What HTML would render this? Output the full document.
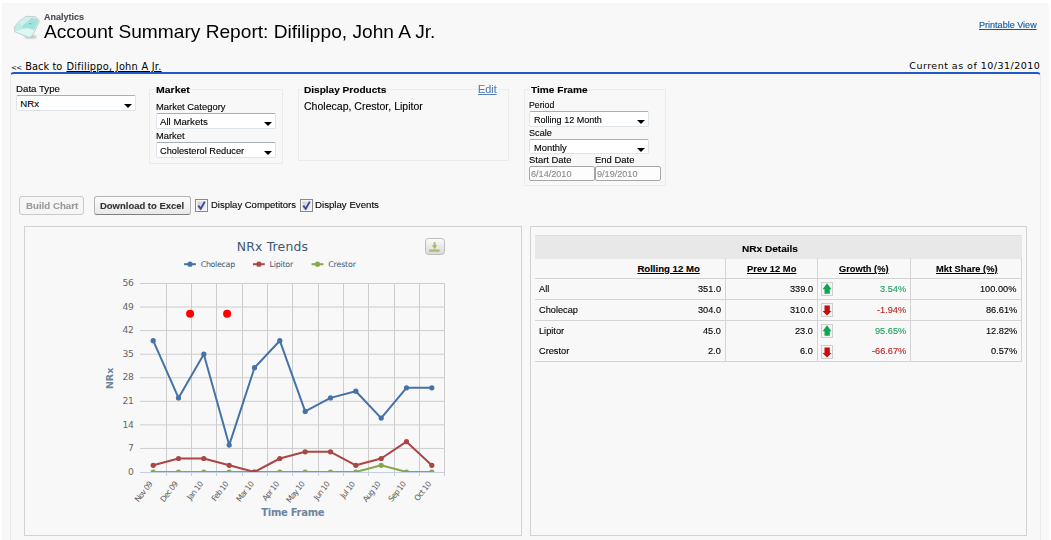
<!DOCTYPE html>
<html><head><meta charset="utf-8"><title>Account Summary Report</title>
<style>
html,body{margin:0;padding:0;background:#fff;}
body{width:1051px;height:540px;overflow:hidden;position:relative;font-family:"Liberation Sans",Arial,sans-serif;font-size:11px;color:#000;}
#bg{position:absolute;left:2px;top:3px;width:1047px;height:537px;background:#f8f8f8;}
.a{position:absolute;white-space:nowrap;transform-origin:0 0;-webkit-text-stroke:0.12px currentColor;}
.v{-webkit-text-stroke:0;}
.v{font-family:"DejaVu Sans",Verdana,sans-serif;}
.ct{font-family:"DejaVu Sans",Verdana,sans-serif;}
.u{text-decoration:underline;}
.lgd{background:#f8f8f8;}
#panel{position:absolute;left:10px;top:72px;width:1029px;height:480px;border:1px solid #eaeaea;border-top:2px solid #2159c5;border-radius:4px 4px 0 0;background:#f8f8f8;}
.fs{position:absolute;border:1px solid #ececec;}
.sel{position:absolute;width:118px;height:14px;background:#fff;border:1px solid #dfe3ea;border-top-color:#a9adb5;border-radius:2px;}
.sel i{position:absolute;right:3.5px;top:8px;width:0;height:0;border-left:4px solid transparent;border-right:4px solid transparent;border-top:4.4px solid #000;}
.inp{position:absolute;height:13px;background:#fdfdfd;border:1px solid #a6a6a6;border-radius:2px;}
.btn{position:absolute;top:196px;height:17px;border:1px solid #b5b5b5;border-bottom-color:#7f7f7f;border-radius:3px;background:linear-gradient(#fbfbfb,#e9e9e9);}
.btn.dis{border-color:#c9c9c9;background:#f6f6f6;}
.cb{position:absolute;top:199px;width:11px;height:11px;border:1px solid #8a8a8a;background:linear-gradient(135deg,#c9c9c9,#f4f4f4);box-shadow:inset 0 0 0 1.5px #f5f5f5;}
.cb svg{position:absolute;left:0;top:0}
.box{position:absolute;border:1px solid #d2d2d2;background:#f8f8f8;}
.chart{position:absolute;left:24px;top:226px;}
.hl{position:absolute;height:1px;background:#d4d4d4;}
.vl{position:absolute;width:1px;background:#d4d4d4;}
.ic{position:absolute;left:821px;}
</style></head><body>
<div id="bg"></div>
<!-- header -->
<svg class="a" style="left:10px;top:12px" width="34" height="30" viewBox="10 12 34 30">
<defs><filter id="bl" x="-20%" y="-20%" width="140%" height="140%"><feGaussianBlur stdDeviation="0.55"/></filter>
<filter id="bl2" x="-30%" y="-50%" width="160%" height="200%"><feGaussianBlur stdDeviation="1"/></filter></defs>
<ellipse cx="30.5" cy="36.8" rx="6.5" ry="1.3" fill="#a9a9a9" filter="url(#bl2)"/>
<g filter="url(#bl)">
<polygon points="26,16.3 35.3,16.7 39.3,20.3 39,22.3 33.7,33.3 31.2,36.9 28.3,37.4 14.7,31.7 14.3,27 19,21.3" fill="#cdf2ee" stroke="#c6cccc" stroke-width="0.9"/>
<polygon points="31.3,18 37.3,19 38,22 34,30 28,28.3 22.3,28.9 22,26 28,21.3" fill="#a2e2d9"/>
<polygon points="22.3,28.9 28,28.3 34,30 32.5,33.5 30.3,36.6 15.5,31.4" fill="#dcf8f5"/>
<polygon points="15,27.2 19.5,22 22,26 22.3,28.9 15.3,31" fill="#bdece6"/>
<polygon points="29.2,23 31.6,23 30.4,24.8" fill="#4db8e8"/>
</g></svg>
<div class="a" style="left:44.00px;top:11.00px;font-size:9.60px;line-height:11.00px;transform:scaleX(0.9372);font-weight:bold;color:#4a4a56;">Analytics</div>
<div class="a" style="left:44.30px;top:21.00px;font-size:19.00px;line-height:21.00px;transform:scaleX(1.0072);-webkit-text-stroke:0;">Account Summary Report: Difilippo, John A Jr.</div>
<div class="a u" style="left:979.20px;top:19.00px;font-size:9.60px;line-height:11.00px;transform:scaleX(0.9430);color:#015ba7;">Printable View</div>
<div class="a v" style="left:11.10px;top:64.00px;font-size:7.00px;line-height:8.00px;letter-spacing:-0.816px;">&lt;&lt;</div>
<div class="a v" style="left:25.20px;top:61.00px;font-size:9.80px;line-height:11.00px;letter-spacing:0.065px;">Back to</div>
<div class="a u v" style="left:66.50px;top:61.00px;font-size:9.80px;line-height:11.00px;letter-spacing:0.246px;">Difilippo, John A Jr.</div>
<div class="a v" style="left:909.30px;top:60.00px;font-size:9.50px;line-height:11.00px;letter-spacing:0.482px;">Current as of 10/31/2010</div>
<div id="panel"></div>
<!-- filters -->
<div class="sel" style="left:16px;top:95px"><i></i></div>
<div class="fs" style="left:149px;top:89px;width:132px;height:73px"></div>
<div class="sel" style="left:156px;top:113px"><i></i></div>
<div class="sel" style="left:156px;top:142px"><i></i></div>
<div class="fs" style="left:298px;top:89px;width:209px;height:70px"></div>
<div class="fs" style="left:524px;top:89px;width:140px;height:95px"></div>
<div class="sel" style="left:529px;top:111px"><i></i></div>
<div class="sel" style="left:529px;top:139px;height:13px"><i></i></div>
<div class="inp" style="left:529px;top:166px;width:64px"></div>
<div class="inp" style="left:595px;top:166px;width:64px"></div>
<div class="btn dis" style="left:19px;width:63px"></div>
<div class="btn" style="left:94px;width:95px"></div>
<div class="cb" style="left:195px"><svg width="11" height="11" viewBox="0 0 11 11"><path d="M2.3 5.6 L4.7 8.8 L8.8 1.6" fill="none" stroke="#3a4a9c" stroke-width="1.9"/></svg></div>
<div class="cb" style="left:299.5px"><svg width="11" height="11" viewBox="0 0 11 11"><path d="M2.3 5.6 L4.7 8.8 L8.8 1.6" fill="none" stroke="#3a4a9c" stroke-width="1.9"/></svg></div>
<div class="a" style="left:16.00px;top:83.00px;font-size:9.60px;line-height:11.00px;transform:scaleX(1.0096);">Data Type</div>
<div class="a lgd" style="left:156.20px;top:84.00px;font-size:9.60px;line-height:11.00px;transform:scaleX(1.0923);font-weight:bold;">Market</div>
<div class="a" style="left:156.00px;top:101.00px;font-size:9.60px;line-height:11.00px;transform:scaleX(0.9795);">Market Category</div>
<div class="a" style="left:156.00px;top:130.00px;font-size:9.60px;line-height:11.00px;transform:scaleX(0.9740);">Market</div>
<div class="a lgd" style="left:304.00px;top:84.00px;font-size:9.60px;line-height:11.00px;transform:scaleX(1.0495);font-weight:bold;">Display Products</div>
<div class="a u lgd" style="left:478.30px;top:84.00px;font-size:10.40px;line-height:11.00px;transform:scaleX(1.0435);color:#5580b0;">Edit</div>
<div class="a" style="left:304.00px;top:101.00px;font-size:10.00px;line-height:11.00px;transform:scaleX(1.0530);">Cholecap, Crestor, Lipitor</div>
<div class="a lgd" style="left:530.80px;top:84.00px;font-size:9.60px;line-height:11.00px;transform:scaleX(1.0538);font-weight:bold;">Time Frame</div>
<div class="a" style="left:529.20px;top:99.00px;font-size:9.60px;line-height:11.00px;transform:scaleX(0.9118);">Period</div>
<div class="a" style="left:529.20px;top:127.00px;font-size:9.60px;line-height:11.00px;transform:scaleX(0.9495);">Scale</div>
<div class="a" style="left:529.20px;top:154.00px;font-size:9.60px;line-height:11.00px;transform:scaleX(0.9834);">Start Date</div>
<div class="a" style="left:595.20px;top:154.00px;font-size:9.60px;line-height:11.00px;transform:scaleX(0.9854);">End Date</div>
<div class="a" style="left:210.60px;top:199.00px;font-size:9.60px;line-height:11.00px;transform:scaleX(0.9896);">Display Competitors</div>
<div class="a" style="left:315.40px;top:199.00px;font-size:9.60px;line-height:11.00px;transform:scaleX(1.0080);">Display Events</div>
<div class="a" style="left:25.60px;top:200.00px;font-size:9.60px;line-height:11.00px;transform:scaleX(1.0110);font-weight:bold;color:#9a9a9a;">Build Chart</div>
<div class="a" style="left:100.30px;top:200.00px;font-size:9.60px;line-height:11.00px;transform:scaleX(0.9866);font-weight:bold;color:#333;">Download to Excel</div>
<div class="a" style="left:20.30px;top:98.00px;font-size:9.60px;line-height:11.00px;">NRx</div>
<div class="a" style="left:160.00px;top:116.00px;font-size:9.60px;line-height:11.00px;transform:scaleX(1.0069);">All Markets</div>
<div class="a" style="left:160.00px;top:145.00px;font-size:9.60px;line-height:11.00px;transform:scaleX(0.9622);">Cholesterol Reducer</div>
<div class="a" style="left:533.60px;top:114.00px;font-size:9.60px;line-height:11.00px;transform:scaleX(0.9426);">Rolling 12 Month</div>
<div class="a" style="left:533.60px;top:142.00px;font-size:9.60px;line-height:11.00px;transform:scaleX(0.9729);">Monthly</div>
<div class="a" style="left:531.20px;top:168.00px;font-size:9.60px;line-height:11.00px;transform:scaleX(0.9484);color:#8a8a8a;">6/14/2010</div>
<div class="a" style="left:597.30px;top:168.00px;font-size:9.60px;line-height:11.00px;transform:scaleX(0.9484);color:#8a8a8a;">9/19/2010</div>
<!-- chart panel -->
<div class="box" style="left:24px;top:226px;width:496px;height:308px"></div>
<svg class="chart" width="497" height="309" viewBox="24 226 497 309">
<g stroke="#cdcdcd" stroke-width="1"><line x1="140.0" x2="445.0" y1="448.44" y2="448.44"/><line x1="140.0" x2="445.0" y1="424.88" y2="424.88"/><line x1="140.0" x2="445.0" y1="401.31" y2="401.31"/><line x1="140.0" x2="445.0" y1="377.75" y2="377.75"/><line x1="140.0" x2="445.0" y1="354.19" y2="354.19"/><line x1="140.0" x2="445.0" y1="330.62" y2="330.62"/><line x1="140.0" x2="445.0" y1="307.06" y2="307.06"/><line x1="140.0" x2="445.0" y1="283.50" y2="283.50"/></g>
<g stroke="#cdcdcd" stroke-width="1" shape-rendering="crispEdges"><line x1="166.5" x2="166.5" y1="283.0" y2="472.0"/><line x1="191.5" x2="191.5" y1="283.0" y2="472.0"/><line x1="216.5" x2="216.5" y1="283.0" y2="472.0"/><line x1="242.5" x2="242.5" y1="283.0" y2="472.0"/><line x1="267.5" x2="267.5" y1="283.0" y2="472.0"/><line x1="292.5" x2="292.5" y1="283.0" y2="472.0"/><line x1="318.5" x2="318.5" y1="283.0" y2="472.0"/><line x1="343.5" x2="343.5" y1="283.0" y2="472.0"/><line x1="368.5" x2="368.5" y1="283.0" y2="472.0"/><line x1="394.5" x2="394.5" y1="283.0" y2="472.0"/><line x1="419.5" x2="419.5" y1="283.0" y2="472.0"/><line x1="444.5" x2="444.5" y1="283.0" y2="472.0"/></g>
<g stroke="#c0d0e0" stroke-width="1" shape-rendering="crispEdges"><line x1="140.0" x2="445.0" y1="472.5" y2="472.5"/><line x1="166.5" x2="166.5" y1="472" y2="476"/><line x1="191.5" x2="191.5" y1="472" y2="476"/><line x1="216.5" x2="216.5" y1="472" y2="476"/><line x1="242.5" x2="242.5" y1="472" y2="476"/><line x1="267.5" x2="267.5" y1="472" y2="476"/><line x1="292.5" x2="292.5" y1="472" y2="476"/><line x1="318.5" x2="318.5" y1="472" y2="476"/><line x1="343.5" x2="343.5" y1="472" y2="476"/><line x1="368.5" x2="368.5" y1="472" y2="476"/><line x1="394.5" x2="394.5" y1="472" y2="476"/><line x1="419.5" x2="419.5" y1="472" y2="476"/><line x1="444.5" x2="444.5" y1="472" y2="476"/></g>
<defs><clipPath id="pc"><rect x="140.5" y="277.5" width="304.0" height="194.5"/></clipPath></defs>
<g clip-path="url(#pc)"><polyline points="153.2,472.0 178.5,472.0 203.8,472.0 229.2,472.0 254.5,472.0 279.8,472.0 305.2,472.0 330.5,472.0 355.8,472.0 381.2,465.3 406.5,472.0 431.8,472.0" fill="none" stroke="#89A54E" stroke-width="2" stroke-linejoin="round" stroke-linecap="round"/><circle cx="153.2" cy="472.0" r="2.6" fill="#89A54E"/><circle cx="178.5" cy="472.0" r="2.6" fill="#89A54E"/><circle cx="203.8" cy="472.0" r="2.6" fill="#89A54E"/><circle cx="229.2" cy="472.0" r="2.6" fill="#89A54E"/><circle cx="254.5" cy="472.0" r="2.6" fill="#89A54E"/><circle cx="279.8" cy="472.0" r="2.6" fill="#89A54E"/><circle cx="305.2" cy="472.0" r="2.6" fill="#89A54E"/><circle cx="330.5" cy="472.0" r="2.6" fill="#89A54E"/><circle cx="355.8" cy="472.0" r="2.6" fill="#89A54E"/><circle cx="381.2" cy="465.3" r="2.6" fill="#89A54E"/><circle cx="406.5" cy="472.0" r="2.6" fill="#89A54E"/><circle cx="431.8" cy="472.0" r="2.6" fill="#89A54E"/><polyline points="153.2,465.3 178.5,458.5 203.8,458.5 229.2,465.3 254.5,472.0 279.8,458.5 305.2,451.8 330.5,451.8 355.8,465.3 381.2,458.5 406.5,441.7 431.8,465.3" fill="none" stroke="#AA4643" stroke-width="2" stroke-linejoin="round" stroke-linecap="round"/><circle cx="153.2" cy="465.3" r="2.6" fill="#AA4643"/><circle cx="178.5" cy="458.5" r="2.6" fill="#AA4643"/><circle cx="203.8" cy="458.5" r="2.6" fill="#AA4643"/><circle cx="229.2" cy="465.3" r="2.6" fill="#AA4643"/><circle cx="254.5" cy="472.0" r="2.6" fill="#AA4643"/><circle cx="279.8" cy="458.5" r="2.6" fill="#AA4643"/><circle cx="305.2" cy="451.8" r="2.6" fill="#AA4643"/><circle cx="330.5" cy="451.8" r="2.6" fill="#AA4643"/><circle cx="355.8" cy="465.3" r="2.6" fill="#AA4643"/><circle cx="381.2" cy="458.5" r="2.6" fill="#AA4643"/><circle cx="406.5" cy="441.7" r="2.6" fill="#AA4643"/><circle cx="431.8" cy="465.3" r="2.6" fill="#AA4643"/><polyline points="153.2,340.7 178.5,397.9 203.8,354.2 229.2,445.1 254.5,367.7 279.8,340.7 305.2,411.4 330.5,397.9 355.8,391.2 381.2,418.1 406.5,387.8 431.8,387.8" fill="none" stroke="#4572A7" stroke-width="2" stroke-linejoin="round" stroke-linecap="round"/><circle cx="153.2" cy="340.7" r="2.6" fill="#4572A7"/><circle cx="178.5" cy="397.9" r="2.6" fill="#4572A7"/><circle cx="203.8" cy="354.2" r="2.6" fill="#4572A7"/><circle cx="229.2" cy="445.1" r="2.6" fill="#4572A7"/><circle cx="254.5" cy="367.7" r="2.6" fill="#4572A7"/><circle cx="279.8" cy="340.7" r="2.6" fill="#4572A7"/><circle cx="305.2" cy="411.4" r="2.6" fill="#4572A7"/><circle cx="330.5" cy="397.9" r="2.6" fill="#4572A7"/><circle cx="355.8" cy="391.2" r="2.6" fill="#4572A7"/><circle cx="381.2" cy="418.1" r="2.6" fill="#4572A7"/><circle cx="406.5" cy="387.8" r="2.6" fill="#4572A7"/><circle cx="431.8" cy="387.8" r="2.6" fill="#4572A7"/></g>
<circle cx="190.1" cy="313.7" r="4" fill="#f00"/><circle cx="227.1" cy="313.7" r="4" fill="#f00"/>
<text x="236.8" y="250.6" class="ct" font-size="12.4" letter-spacing="0.183" fill="#3e576f">NRx Trends</text>
<line x1="184.1" x2="195.9" y1="264.2" y2="264.2" stroke="#4572A7" stroke-width="2"/><circle cx="190.0" cy="264.2" r="2.6" fill="#4572A7"/><text x="200.7" y="266.8" class="ct" font-size="7.9" letter-spacing="-0.302" fill="#3e576f">Cholecap</text><line x1="253" x2="264.8" y1="264.2" y2="264.2" stroke="#AA4643" stroke-width="2"/><circle cx="258.9" cy="264.2" r="2.6" fill="#AA4643"/><text x="269.6" y="266.8" class="ct" font-size="7.9" letter-spacing="-0.226" fill="#3e576f">Lipitor</text><line x1="311.6" x2="323.40000000000003" y1="264.2" y2="264.2" stroke="#89A54E" stroke-width="2"/><circle cx="317.5" cy="264.2" r="2.6" fill="#89A54E"/><text x="328.2" y="266.8" class="ct" font-size="7.9" letter-spacing="-0.164" fill="#3e576f">Crestor</text>
<text x="133.7" y="474.6" text-anchor="end" class="ct" font-size="9.2" letter-spacing="-0.253" fill="#666">0</text>
<text x="133.7" y="451.0" text-anchor="end" class="ct" font-size="9.2" letter-spacing="-0.253" fill="#666">7</text>
<text x="133.7" y="427.5" text-anchor="end" class="ct" font-size="9.2" letter-spacing="-0.253" fill="#666">14</text>
<text x="133.7" y="403.9" text-anchor="end" class="ct" font-size="9.2" letter-spacing="-0.253" fill="#666">21</text>
<text x="133.7" y="380.4" text-anchor="end" class="ct" font-size="9.2" letter-spacing="-0.253" fill="#666">28</text>
<text x="133.7" y="356.8" text-anchor="end" class="ct" font-size="9.2" letter-spacing="-0.253" fill="#666">35</text>
<text x="133.7" y="333.2" text-anchor="end" class="ct" font-size="9.2" letter-spacing="-0.253" fill="#666">42</text>
<text x="133.7" y="309.7" text-anchor="end" class="ct" font-size="9.2" letter-spacing="-0.253" fill="#666">49</text>
<text x="133.7" y="286.1" text-anchor="end" class="ct" font-size="9.2" letter-spacing="-0.253" fill="#666">56</text>
<text transform="translate(113,378.4) rotate(-90)" text-anchor="middle" class="ct" font-size="9.5" font-weight="bold" letter-spacing="0.000" fill="#6d869f">NRx</text>
<text transform="translate(152.7,484.5) rotate(-52)" text-anchor="end" class="ct" font-size="7.8" letter-spacing="-0.772" fill="#606060">Nov 09</text>
<text transform="translate(178.0,484.5) rotate(-52)" text-anchor="end" class="ct" font-size="7.8" letter-spacing="-0.768" fill="#606060">Dec 09</text>
<text transform="translate(203.3,484.5) rotate(-52)" text-anchor="end" class="ct" font-size="7.8" letter-spacing="-0.682" fill="#606060">Jan 10</text>
<text transform="translate(228.7,484.5) rotate(-52)" text-anchor="end" class="ct" font-size="7.8" letter-spacing="-0.732" fill="#606060">Feb 10</text>
<text transform="translate(254.0,484.5) rotate(-52)" text-anchor="end" class="ct" font-size="7.8" letter-spacing="-0.757" fill="#606060">Mar 10</text>
<text transform="translate(279.3,484.5) rotate(-52)" text-anchor="end" class="ct" font-size="7.8" letter-spacing="-0.723" fill="#606060">Apr 10</text>
<text transform="translate(304.7,484.5) rotate(-52)" text-anchor="end" class="ct" font-size="7.8" letter-spacing="-0.797" fill="#606060">May 10</text>
<text transform="translate(330.0,484.5) rotate(-52)" text-anchor="end" class="ct" font-size="7.8" letter-spacing="-0.687" fill="#606060">Jun 10</text>
<text transform="translate(355.3,484.5) rotate(-52)" text-anchor="end" class="ct" font-size="7.8" letter-spacing="-0.609" fill="#606060">Jul 10</text>
<text transform="translate(380.7,484.5) rotate(-52)" text-anchor="end" class="ct" font-size="7.8" letter-spacing="-0.772" fill="#606060">Aug 10</text>
<text transform="translate(406.0,484.5) rotate(-52)" text-anchor="end" class="ct" font-size="7.8" letter-spacing="-0.757" fill="#606060">Sep 10</text>
<text transform="translate(431.3,484.5) rotate(-52)" text-anchor="end" class="ct" font-size="7.8" letter-spacing="-0.723" fill="#606060">Oct 10</text>
<text x="261.3" y="515.7" class="ct" font-size="10" font-weight="bold" letter-spacing="-0.301" fill="#6d869f">Time Frame</text>
<defs><linearGradient id="bgr" x1="0" y1="0" x2="0" y2="1"><stop offset="0" stop-color="#fbfbfb"/><stop offset="1" stop-color="#d8d8d8"/></linearGradient></defs>
<rect x="425.5" y="238.5" width="19" height="16" rx="3" fill="url(#bgr)" stroke="#bdbdbd"/>
<path d="M433.6 242.3h2v3h1.6l-2.6 4-2.6-4h1.6zM429.3 249.6h10.2v2.2h-10.2z" fill="#a9b96c"/>
</svg>
<!-- table panel -->
<div class="box" style="left:530px;top:226px;width:495px;height:308px"></div>
<div style="position:absolute;left:535px;top:235px;width:487px;height:23px;background:#e8e8e8;border-top:1px solid #dedede"></div>
<div class="a" style="left:742.40px;top:243.00px;font-size:9.60px;line-height:11.00px;transform:scaleX(1.0497);font-weight:bold;">NRx Details</div>
<div class="a u" style="left:637.40px;top:263.00px;font-size:9.60px;line-height:11.00px;font-weight:bold;">Rolling 12 Mo</div>
<div class="a u" style="left:747.00px;top:263.00px;font-size:9.60px;line-height:11.00px;transform:scaleX(0.9746);font-weight:bold;">Prev 12 Mo</div>
<div class="a u" style="left:839.40px;top:263.00px;font-size:9.60px;line-height:11.00px;transform:scaleX(0.9670);font-weight:bold;">Growth (%)</div>
<div class="a u" style="left:935.90px;top:263.00px;font-size:9.60px;line-height:11.00px;transform:scaleX(0.9705);font-weight:bold;">Mkt Share (%)</div>
<div class="hl" style="left:535px;width:487px;top:278px"></div>
<div class="hl" style="left:535px;width:487px;top:299px"></div>
<div class="hl" style="left:535px;width:487px;top:320px"></div>
<div class="hl" style="left:535px;width:487px;top:361px"></div>
<div class="vl" style="left:725px;top:258px;height:103px"></div>
<div class="vl" style="left:817px;top:258px;height:103px"></div>
<div class="vl" style="left:910px;top:258px;height:103px"></div>
<div class="vl" style="left:1021px;top:258px;height:103px"></div>
<div class="a" style="left:539.30px;top:283.00px;font-size:9.60px;line-height:11.00px;transform:scaleX(0.9602);">All</div><div class="a" style="left:697.93px;top:283.00px;font-size:9.60px;line-height:11.00px;transform:scaleX(0.9602);">351.0</div><div class="a" style="left:790.13px;top:283.00px;font-size:9.60px;line-height:11.00px;transform:scaleX(0.9602);">339.0</div><div class="a" style="left:879.86px;top:283.00px;font-size:9.60px;line-height:11.00px;transform:scaleX(0.9602);color:#22a060;">3.54%</div><div class="a" style="left:980.41px;top:283.00px;font-size:9.60px;line-height:11.00px;transform:scaleX(0.9602);">100.00%</div><svg class="ic" style="top:282px" width="12" height="14" viewBox="0 0 12 14"><rect x="0.5" y="0.5" width="11" height="13" fill="#f4f4f4" stroke="#cfcfcf"/><path d="M6 1.3 L10.5 7.2 H8.8 V11.7 H3.5 V7.2 H1.6 Z" fill="#10a651"/></svg><div class="a" style="left:539.30px;top:304.00px;font-size:9.60px;line-height:11.00px;transform:scaleX(0.9602);">Cholecap</div><div class="a" style="left:697.93px;top:304.00px;font-size:9.60px;line-height:11.00px;transform:scaleX(0.9602);">304.0</div><div class="a" style="left:790.13px;top:304.00px;font-size:9.60px;line-height:11.00px;transform:scaleX(0.9602);">310.0</div><div class="a" style="left:876.79px;top:304.00px;font-size:9.60px;line-height:11.00px;transform:scaleX(0.9602);color:#c02020;">-1.94%</div><div class="a" style="left:985.54px;top:304.00px;font-size:9.60px;line-height:11.00px;transform:scaleX(0.9602);">86.61%</div><svg class="ic" style="top:303px" width="12" height="14" viewBox="0 0 12 14"><rect x="0.5" y="0.5" width="11" height="13" fill="#f4f4f4" stroke="#cfcfcf"/><path d="M3.5 2.5 H8.8 V8 H10.5 L6 12.5 L1.6 8 H3.5 Z" fill="#cc0a0a"/></svg><div class="a" style="left:539.30px;top:325.00px;font-size:9.60px;line-height:11.00px;transform:scaleX(0.9602);">Lipitor</div><div class="a" style="left:703.06px;top:325.00px;font-size:9.60px;line-height:11.00px;transform:scaleX(0.9602);">45.0</div><div class="a" style="left:795.26px;top:325.00px;font-size:9.60px;line-height:11.00px;transform:scaleX(0.9602);">23.0</div><div class="a" style="left:874.74px;top:325.00px;font-size:9.60px;line-height:11.00px;transform:scaleX(0.9602);color:#22a060;">95.65%</div><div class="a" style="left:985.54px;top:325.00px;font-size:9.60px;line-height:11.00px;transform:scaleX(0.9602);">12.82%</div><svg class="ic" style="top:324px" width="12" height="14" viewBox="0 0 12 14"><rect x="0.5" y="0.5" width="11" height="13" fill="#f4f4f4" stroke="#cfcfcf"/><path d="M6 1.3 L10.5 7.2 H8.8 V11.7 H3.5 V7.2 H1.6 Z" fill="#10a651"/></svg><div class="a" style="left:539.30px;top:345.00px;font-size:9.60px;line-height:11.00px;transform:scaleX(0.9602);">Crestor</div><div class="a" style="left:708.19px;top:345.00px;font-size:9.60px;line-height:11.00px;transform:scaleX(0.9602);">2.0</div><div class="a" style="left:800.39px;top:345.00px;font-size:9.60px;line-height:11.00px;transform:scaleX(0.9602);">6.0</div><div class="a" style="left:871.67px;top:345.00px;font-size:9.60px;line-height:11.00px;transform:scaleX(0.9602);color:#c02020;">-66.67%</div><div class="a" style="left:990.66px;top:345.00px;font-size:9.60px;line-height:11.00px;transform:scaleX(0.9602);">0.57%</div><svg class="ic" style="top:345px" width="12" height="14" viewBox="0 0 12 14"><rect x="0.5" y="0.5" width="11" height="13" fill="#f4f4f4" stroke="#cfcfcf"/><path d="M3.5 2.5 H8.8 V8 H10.5 L6 12.5 L1.6 8 H3.5 Z" fill="#cc0a0a"/></svg>
</body></html>
